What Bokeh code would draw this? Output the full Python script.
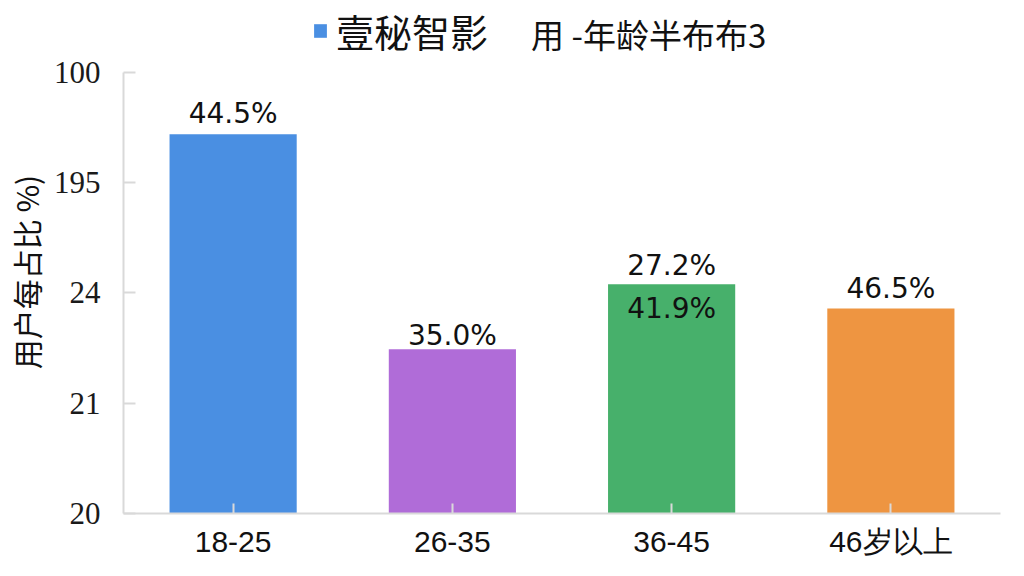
from bokeh.plotting import figure
from bokeh.models import (ColumnDataSource, FactorRange, Range1d, FixedTicker,
                          Label, Legend, LegendItem)
from bokeh.core.properties import value
from bokeh.embed import file_html
from bokeh.resources import INLINE

# ---- data ----
categories = ["18-25", "26-35", "36-45", "46岁以上"]
bar_values = [3.44, 1.49, 2.08, 1.86]          # heights on the (garbled) tick scale
bar_labels = ["44.5%", "35.0%", "27.2%", "46.5%"]
inner_label_categories = ["36-45"]
inner_label_values = [2.08]
inner_labels = ["41.9%"]
bar_colors = ["#4A8FE2", "#B06CD8", "#47B06B", "#EE9541"]
y_tick_positions = [0, 1, 2, 3, 4]
y_tick_labels = ["20", "21", "24", "195", "100"]
series_name = "壹秘智影"
title_text = "用 -年龄半布布3"
y_axis_title = "用户每占比 %)\u3000"

# label styling (pixel offsets)
label_offsets = [-21, -14, -19, -20]

CJK = "Noto Sans CJK SC"
Y_TOP = 4.653   # room above the top tick for the header

p = figure(x_range=FactorRange(*categories), y_range=Range1d(0, Y_TOP),
           width=1008, height=560, output_backend="svg", toolbar_location=None,
           min_border_left=123, min_border_right=8, min_border_top=0,
           min_border_bottom=47)
p.outline_line_color = None
p.xgrid.visible = False
p.ygrid.visible = False
p.background_fill_color = "white"

src = ColumnDataSource(dict(cat=categories, val=bar_values, lab=bar_labels,
                            color=bar_colors, off=label_offsets))
bars = p.vbar(x="cat", top="val", bottom=0, width=0.58, fill_color="color",
              line_color=None, source=src)

p.text(x="cat", y="val", text="lab", y_offset="off", source=src,
       text_align="center", text_baseline="middle", text_font_size="28px",
       text_font=value("DejaVu Sans"), text_color="#111111")

src_in = ColumnDataSource(dict(cat=inner_label_categories, val=inner_label_values,
                               lab=inner_labels))
p.text(x="cat", y="val", text="lab", y_offset=24, source=src_in,
       text_align="center", text_baseline="middle", text_font_size="28px",
       text_font=value("DejaVu Sans"), text_color="#111111")

# y axis
ya = p.yaxis[0]
ya.ticker = FixedTicker(ticks=y_tick_positions)
ya.bounds = (0, 4)
ya.major_label_overrides = {k: v for k, v in zip(y_tick_positions, y_tick_labels)}
ya.major_label_text_font = "Liberation Serif"
ya.major_label_text_font_size = "31px"
ya.major_label_text_color = "#1a1a1a"
ya.major_tick_in = 12
ya.major_tick_out = 0
ya.minor_tick_line_color = None
ya.axis_line_color = "#D9D9D9"
ya.axis_line_width = 2
ya.major_tick_line_color = "#D9D9D9"
ya.major_tick_line_width = 2
ya.major_label_standoff = 23
ya.axis_label = y_axis_title
ya.axis_label_text_font = CJK
ya.axis_label_text_font_style = "normal"
ya.axis_label_text_font_size = "30px"
ya.axis_label_text_color = "#111111"
ya.axis_label_standoff = 3

# x axis
xa = p.xaxis[0]
xa.major_label_text_font = "Liberation Sans"
xa.major_label_text_font_size = "30px"
xa.major_label_text_color = "#111111"
xa.major_tick_in = 10
xa.major_tick_out = 0
xa.axis_line_color = "#D9D9D9"
xa.axis_line_width = 2
xa.major_tick_line_color = "#D9D9D9"
xa.major_tick_line_width = 2
xa.major_label_standoff = 11

# header: legend entry + title text
legend = Legend(items=[LegendItem(label=series_name, renderers=[bars], index=0)],
                location=(189, 455), border_line_color=None,
                background_fill_alpha=0, glyph_width=16, glyph_height=17,
                label_text_font=CJK, label_text_font_size="38px",
                label_text_color="#111111", label_standoff=8, padding=0,
                margin=0)
p.add_layout(legend)

p.add_layout(Label(x=1.859, y=4.345, text=title_text, text_baseline="middle",
                   text_font=CJK, text_font_size="33px", text_color="#111111"))

open("out.html", "w").write(file_html(p, INLINE))
